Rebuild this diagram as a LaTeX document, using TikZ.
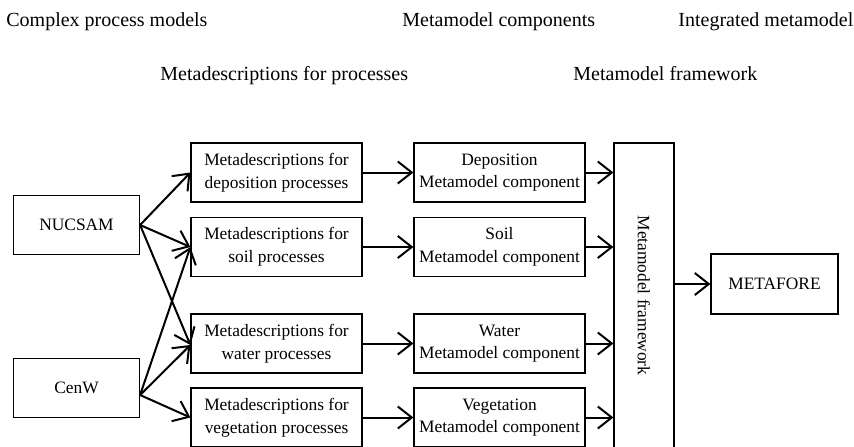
\documentclass[tikz,border=0pt]{standalone}
\usepackage{fontspec}
\setmainfont{Liberation Serif}
\usetikzlibrary{arrows.meta,positioning,calc}

\tikzset{
	box/.style={draw,line width=0.6pt,minimum width=85.5pt,minimum height=29.5pt,
		inner sep=0pt,align=center,font=\fontsize{8.7}{11.3}\selectfont},
	flow/.style={-{Straight Barb[length=7pt,width=11pt]},line width=1pt},
	heading/.style={anchor=base west,inner sep=0pt,font=\fontsize{10}{12}\selectfont}
}

\begin{document}
\begin{tikzpicture}[x=0.5pt,y=-0.5pt]
	\useasboundingbox (0,0) rectangle (854,446);
	
	% column headings
	\node[heading] (h-models) at (6,26) {Complex process models};
	\node[heading] (h-comp) at (402,26) {Metamodel components};
	\node[heading] (h-integ) at (678,26) {Integrated metamodel};
	\node[heading] (h-descr) at (160,80) {Metadescriptions for processes};
	\node[heading] (h-frame) at (573,80) {Metamodel framework};
	
	% complex process models
	\node[box,minimum width=63pt] (nucsam) at (76.5,225) {NUCSAM};
	\node[box,minimum width=63pt] (cenw) at (76.5,388) {CenW};
	\coordinate (cenw-out) at ([yshift=-3.5pt]cenw.east);
	
	% metadescriptions and metamodel components, one row per process
	\foreach \n/\y/\p/\c in {dep/172.5/deposition/Deposition,
		soil/247/soil/Soil,
		water/343.5/water/Water,
		veg/417.5/vegetation/Vegetation}{
		\node[box] (md-\n) at (276.5,\y) {Metadescriptions for\\\p\ processes};
		\node[box] (mc-\n) at (499.5,\y) {\c\\Metamodel component};
		\draw[flow] (md-\n) -- (mc-\n);
	}
	
	% metamodel framework
	\node[draw,line width=0.6pt,minimum width=30pt,minimum height=152.5pt,inner sep=0pt] (fw) at (644,295.5) {};
	\node[rotate=-90,font=\fontsize{8.7}{11.3}\selectfont] (fw-text) at (fw.center) {Metamodel framework};
	
	\foreach \n in {dep,soil,water,veg}{
		\draw[flow] (mc-\n.east) -- (mc-\n.east -| fw.west);
	}
	
	% integrated metamodel
	\node[box,minimum width=63.5pt,minimum height=30pt] (meta) at (774.5,284) {METAFORE};
	\draw[flow] (fw.east |- meta) -- (meta.west);
	
	% models feeding the metadescriptions
	\draw[flow] (nucsam.east) -- (md-dep.west);
	\draw[flow] (nucsam.east) -- (md-soil.west);
	\draw[flow] (nucsam.east) -- ([yshift=-0.75pt]md-water.west);
	\draw[flow] (cenw-out) -- (md-soil.west);
	\draw[flow] (cenw-out) -- ([yshift=-0.75pt]md-water.west);
	\draw[flow] (cenw-out) -- (md-veg.west);
\end{tikzpicture}
\end{document}
